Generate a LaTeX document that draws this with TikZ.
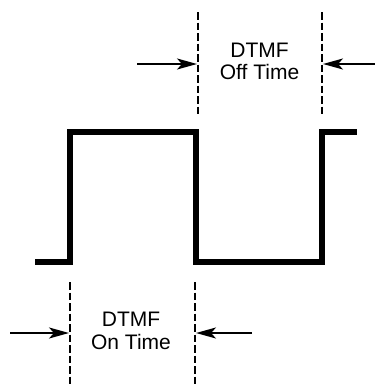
\documentclass[tikz,border=0pt]{standalone}
\usepackage{fontspec}
\setmainfont{Liberation Sans}
\usetikzlibrary{arrows.meta}
\tikzset{
    wave/.style={draw=black,line width=5.4pt,line join=miter},
    guide/.style={draw=black,line width=2pt,dash pattern=on 7.5pt off 3pt},
    pointer/.style={-{Stealth[length=20pt,width=11pt,inset=5pt]},draw=black,line width=2pt},
    caption/.style={align=center,inner sep=0pt,font=\fontsize{21}{22.7}\selectfont}
}

\begin{document}
\begin{tikzpicture}[x=1pt,y=-1pt]
    \useasboundingbox (0,0) rectangle (375,384);
    % pulse train
    \draw[wave] (35,262) -- (70,262) -- (70,132) -- (196,132) -- (196,262)
        -- (322,262) -- (322,132) -- (357,132);
    % off time marks
    \coordinate (offBeginTop) at (198,12);
    \coordinate (offBeginBot) at (198,116);
    \coordinate (offEndTop) at (322,12);
    \coordinate (offEndBot) at (322,116);
    \coordinate (offBeginMid) at (197,64);
    \coordinate (offEndMid) at (323,64);
    \coordinate (offLeftTail) at (137,64);
    \coordinate (offRightTail) at (376,64);
    \draw[guide] (offBeginTop) -- (offBeginBot);
    \draw[guide] (offEndTop) -- (offEndBot);
    \draw[pointer] (offLeftTail) -- (offBeginMid);
    \draw[pointer] (offRightTail) -- (offEndMid);
    \node[caption] (offLabel) at (259.5,61.4) {DTMF\\Off Time};
    % on time marks
    \coordinate (onBeginTop) at (70,282);
    \coordinate (onBeginBot) at (70,384);
    \coordinate (onEndTop) at (195,282);
    \coordinate (onEndBot) at (195,384);
    \coordinate (onBeginMid) at (69,333);
    \coordinate (onEndMid) at (196,333);
    \coordinate (onLeftTail) at (10,333);
    \coordinate (onRightTail) at (252,333);
    \draw[guide] (onBeginTop) -- (onBeginBot);
    \draw[guide] (onEndTop) -- (onEndBot);
    \draw[pointer] (onLeftTail) -- (onBeginMid);
    \draw[pointer] (onRightTail) -- (onEndMid);
    \node[caption] (onLabel) at (131,331) {DTMF\\On Time};
\end{tikzpicture}
\end{document}
